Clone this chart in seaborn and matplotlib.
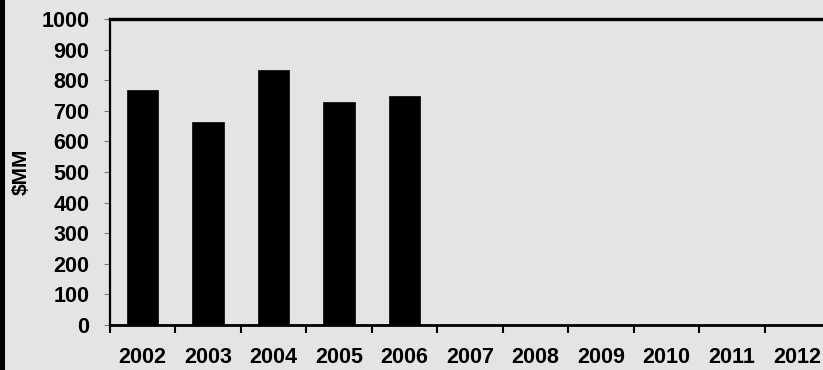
import matplotlib
matplotlib.use("Agg")
import matplotlib.pyplot as plt
from matplotlib.patches import Rectangle
from matplotlib.ticker import FixedLocator
import seaborn as sns
import pandas as pd

# Annual totals, $ millions
years = ["2002", "2003", "2004", "2005", "2006",
         "2007", "2008", "2009", "2010", "2011", "2012"]
reported_years = ["2002", "2003", "2004", "2005", "2006"]
values = [768, 663, 833, 729, 748]
y_ticks = [0, 100, 200, 300, 400, 500, 600, 700, 800, 900, 1000]

sns.set_theme(style="white")
plt.rcParams["font.family"] = ["Liberation Sans", "DejaVu Sans"]

bg = "#e4e4e4"
fig = plt.figure(figsize=(8.23, 3.70), dpi=100, facecolor=bg)
ax = fig.add_axes([110 / 823, 45 / 370, 720 / 823, 306 / 370])
ax.set_facecolor(bg)

df = pd.DataFrame({"year": reported_years, "value": values})
sns.barplot(data=df, x="year", y="value", order=years, color="black",
            width=0.48, saturation=1, edgecolor="black", linewidth=0.5, ax=ax)

ax.set_ylim(0, 1000)
ax.set_xlim(-0.5, len(years) - 0.5)
ax.set_yticks(y_ticks)
ax.set_yticklabels([str(t) for t in y_ticks], fontsize=15.5, fontweight="bold")
ax.set_xticks(range(len(years)))
ax.set_xticklabels(years, fontsize=15.5, fontweight="bold")
ax.xaxis.set_minor_locator(FixedLocator([i - 0.5 for i in range(len(years) + 1)]))
ax.tick_params(axis="x", which="major", length=0, pad=16, colors="black")
ax.tick_params(axis="x", which="minor", length=6, width=1.5, color="black",
               direction="out", bottom=True)
ax.tick_params(axis="y", which="major", length=4, width=0.8, color="#777777",
               direction="out", left=True, pad=11, labelcolor="black")
ax.set_xlabel("")
ax.set_ylabel("")

for side in ["left", "bottom", "top"]:
    ax.spines[side].set_visible(True)
    ax.spines[side].set_color("black")
ax.spines["left"].set_linewidth(1.6)
ax.spines["bottom"].set_linewidth(2.0)
ax.spines["top"].set_linewidth(2.4)
ax.spines["right"].set_visible(False)

fig.text(21 / 823, 1 - 172 / 370, "$MM", rotation=90, ha="center", va="center",
         fontsize=15, fontweight="bold", color="black")

# dark strip along the left edge
fig.patches.append(Rectangle((0, 0), 5 / 823, 1, transform=fig.transFigure,
                             facecolor="black", edgecolor="none", zorder=10))

fig.savefig("out.png", dpi=100, facecolor=bg)
